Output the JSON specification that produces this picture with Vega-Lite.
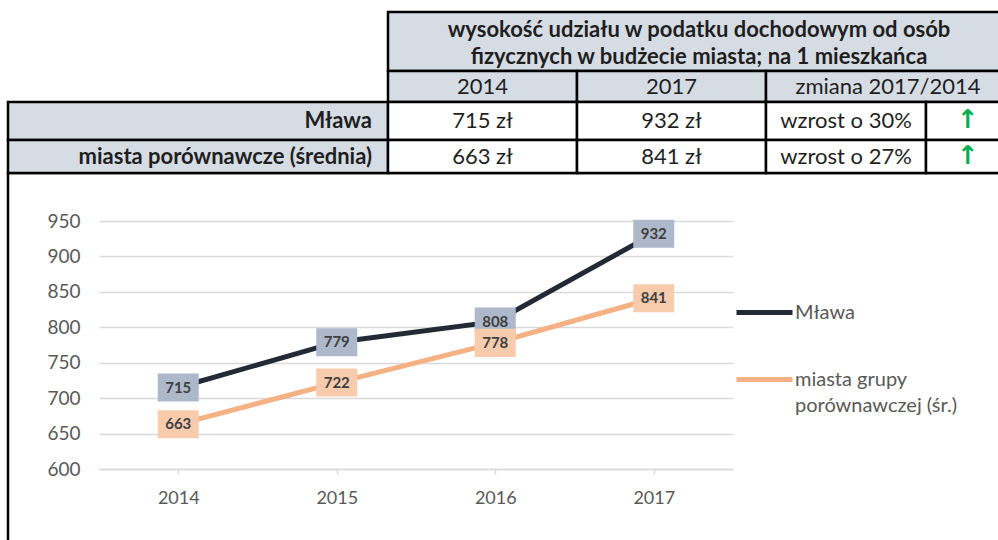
{
  "$schema": "https://vega.github.io/schema/vega-lite/v6.json",
  "width": 998,
  "height": 540,
  "autosize": "none",
  "padding": 0,
  "background": "#ffffff",
  "config": {
    "view": {"stroke": null},
    "font": "Lato",
    "style": {"guide-label": {"lineHeight": 26}}
  },
  "datasets": {
    "cells": [
      {"k": "frame", "c0": 0, "c1": 5, "r0": 4, "r1": 5, "h": false},
      {"k": "title", "c0": 1, "c1": 5, "r0": 0, "r1": 1, "h": true, "t": ["wysokość udziału w podatku dochodowym od osób", "fizycznych w budżecie miasta; na 1 mieszkańca"]},
      {"k": "c", "c0": 1, "c1": 2, "r0": 1, "r1": 2, "cx": 1.5, "cy": 1.5, "h": true, "t": "2014"},
      {"k": "c", "c0": 2, "c1": 3, "r0": 1, "r1": 2, "cx": 2.5, "cy": 1.5, "h": true, "t": "2017"},
      {"k": "zm", "c0": 3, "c1": 5, "r0": 1, "r1": 2, "cy": 1.5, "h": true, "t": "zmiana 2017/2014"},
      {"k": "lab", "c0": 0, "c1": 1, "r0": 2, "r1": 3, "cy": 2.5, "h": true, "t": "Mława"},
      {"k": "c", "c0": 1, "c1": 2, "r0": 2, "r1": 3, "cx": 1.5, "cy": 2.5, "h": false, "t": "715 zł"},
      {"k": "c", "c0": 2, "c1": 3, "r0": 2, "r1": 3, "cx": 2.5, "cy": 2.5, "h": false, "t": "932 zł"},
      {"k": "c", "c0": 3, "c1": 4, "r0": 2, "r1": 3, "cx": 3.5, "cy": 2.5, "h": false, "t": "wzrost o 30%"},
      {"k": "arrow", "c0": 4, "c1": 5, "r0": 2, "r1": 3, "cx": 4.5, "cy": 2.5, "h": false, "t": "↑"},
      {"k": "lab", "c0": 0, "c1": 1, "r0": 3, "r1": 4, "cy": 3.5, "h": true, "t": "miasta porównawcze (średnia)"},
      {"k": "c", "c0": 1, "c1": 2, "r0": 3, "r1": 4, "cx": 1.5, "cy": 3.5, "h": false, "t": "663 zł"},
      {"k": "c", "c0": 2, "c1": 3, "r0": 3, "r1": 4, "cx": 2.5, "cy": 3.5, "h": false, "t": "841 zł"},
      {"k": "c", "c0": 3, "c1": 4, "r0": 3, "r1": 4, "cx": 3.5, "cy": 3.5, "h": false, "t": "wzrost o 27%"},
      {"k": "arrow", "c0": 4, "c1": 5, "r0": 3, "r1": 4, "cx": 4.5, "cy": 3.5, "h": false, "t": "↑"}
    ],
    "series": [
      {"year": "2014", "s": "Mława", "v": 715},
      {"year": "2015", "s": "Mława", "v": 779},
      {"year": "2016", "s": "Mława", "v": 808},
      {"year": "2017", "s": "Mława", "v": 932},
      {"year": "2014", "s": "miasta grupy porównawczej (śr.)", "v": 663},
      {"year": "2015", "s": "miasta grupy porównawczej (śr.)", "v": 722},
      {"year": "2016", "s": "miasta grupy porównawczej (śr.)", "v": 778},
      {"year": "2017", "s": "miasta grupy porównawczej (śr.)", "v": 841}
    ]
  },
  "layer": [
    {
      "data": {"name": "cells"},
      "layer": [
        {
          "mark": {"type": "rect", "stroke": "#000000", "strokeWidth": 2.5},
          "encoding": {
            "x": {"field": "c0", "type": "quantitative", "axis": null, "scale": {"domain": [0, 1, 2, 3, 4, 5], "range": [8, 388, 577, 766, 926, 1010], "nice": false, "zero": false}},
            "x2": {"field": "c1"},
            "y": {"field": "r0", "type": "quantitative", "axis": null, "scale": {"domain": [0, 1, 2, 3, 4, 5], "range": [12, 71, 102, 140, 173, 548], "nice": false, "zero": false}},
            "y2": {"field": "r1"},
            "fill": {"condition": [{"test": "datum.k == 'frame'", "value": "transparent"}, {"test": "datum.h", "value": "#d6dce4"}], "value": "#ffffff"}
          }
        },
        {
          "transform": [{"filter": "datum.k == 'title'"}],
          "mark": {"type": "text", "font": "Lato", "fontWeight": "bold", "fontSize": 22, "color": "#1f1f1f", "align": "center", "baseline": "middle", "dx": 311, "dy": 18, "lineHeight": 27},
          "encoding": {
            "x": {"field": "c0", "type": "quantitative", "axis": null},
            "y": {"field": "r0", "type": "quantitative", "axis": null},
            "text": {"field": "t"}
          }
        },
        {
          "transform": [{"filter": "datum.k == 'zm'"}],
          "mark": {"type": "text", "font": "Lato", "fontSize": 22, "color": "#1f1f1f", "align": "center", "baseline": "middle", "dx": 122},
          "encoding": {
            "x": {"field": "c0", "type": "quantitative", "axis": null},
            "y": {"field": "cy", "type": "quantitative", "axis": null},
            "text": {"field": "t"}
          }
        },
        {
          "transform": [{"filter": "datum.k == 'c'"}],
          "mark": {"type": "text", "font": "Lato", "fontSize": 22, "color": "#1f1f1f", "align": "center", "baseline": "middle"},
          "encoding": {
            "x": {"field": "cx", "type": "quantitative", "axis": null},
            "y": {"field": "cy", "type": "quantitative", "axis": null},
            "text": {"field": "t"}
          }
        },
        {
          "transform": [{"filter": "datum.k == 'lab'"}],
          "mark": {"type": "text", "font": "Lato", "fontWeight": "bold", "fontSize": 22, "color": "#1f1f1f", "align": "right", "baseline": "middle", "dx": -16},
          "encoding": {
            "x": {"field": "c1", "type": "quantitative", "axis": null},
            "y": {"field": "cy", "type": "quantitative", "axis": null},
            "text": {"field": "t"}
          }
        },
        {
          "transform": [{"filter": "datum.k == 'arrow'"}],
          "mark": {"type": "text", "font": "DejaVu Sans", "fontWeight": "bold", "fontSize": 26, "color": "#00b050", "align": "center", "baseline": "middle", "dy": -1},
          "encoding": {
            "x": {"field": "cx", "type": "quantitative", "axis": null},
            "y": {"field": "cy", "type": "quantitative", "axis": null},
            "text": {"field": "t"}
          }
        }
      ]
    },
    {
      "data": {"name": "series"},
      "encoding": {
        "x": {
          "field": "year", "type": "ordinal",
          "scale": {"type": "point", "padding": 0.5, "range": [99, 733]},
          "axis": {"orient": "bottom", "offset": -71, "title": null, "labelAngle": 0, "labelFont": "Lato", "labelFontSize": 18, "labelColor": "#595959", "labelPadding": 15, "domainColor": "#d9d9d9", "domainWidth": 1.5, "tickColor": "#d9d9d9", "tickWidth": 1.5, "tickSize": 5, "grid": false}
        },
        "y": {
          "field": "v", "type": "quantitative",
          "scale": {"domain": [600, 950], "range": [469, 221], "nice": false, "zero": false},
          "axis": {"orient": "left", "offset": -99, "title": null, "values": [600, 650, 700, 750, 800, 850, 900, 950], "labelFont": "Lato", "labelFontSize": 19, "labelColor": "#595959", "labelPadding": 19, "ticks": false, "domain": false, "grid": true, "gridColor": "#d9d9d9", "gridWidth": 1.5}
        }
      },
      "layer": [
        {
          "mark": {"type": "line", "strokeWidth": 5},
          "encoding": {
            "color": {
              "field": "s", "type": "nominal",
              "scale": {"domain": ["Mława", "miasta grupy porównawczej (śr.)"], "range": ["#222a35", "#f4b183"]},
              "legend": {"orient": "none", "legendX": 734, "legendY": 282, "title": null, "padding": 0, "symbolType": "stroke", "symbolSize": 3136, "symbolStrokeWidth": 5, "labelFont": "Lato", "labelFontSize": 20, "labelColor": "#595959", "labelOffset": 0, "labelLimit": 400, "rowPadding": 26, "labelExpr": "datum.label == 'Mława' ? datum.label : ['miasta grupy', 'porównawczej (śr.)']"}
            }
          }
        },
        {
          "mark": {"type": "point", "shape": "M-1,-0.683H1V0.683H-1Z", "size": 1681, "filled": true, "opacity": 1, "strokeWidth": 0},
          "encoding": {
            "fill": {
              "field": "s", "type": "nominal",
              "scale": {"domain": ["Mława", "miasta grupy porównawczej (śr.)"], "range": ["#adb9ca", "#f8cbad"]},
              "legend": null
            }
          }
        },
        {
          "mark": {"type": "text", "font": "Lato", "fontWeight": "bold", "fontSize": 15, "color": "#404040", "align": "center", "baseline": "middle"},
          "encoding": {"text": {"field": "v", "type": "quantitative"}}
        }
      ]
    }
  ],
  "resolve": {"scale": {"x": "independent", "y": "independent"}}
}
